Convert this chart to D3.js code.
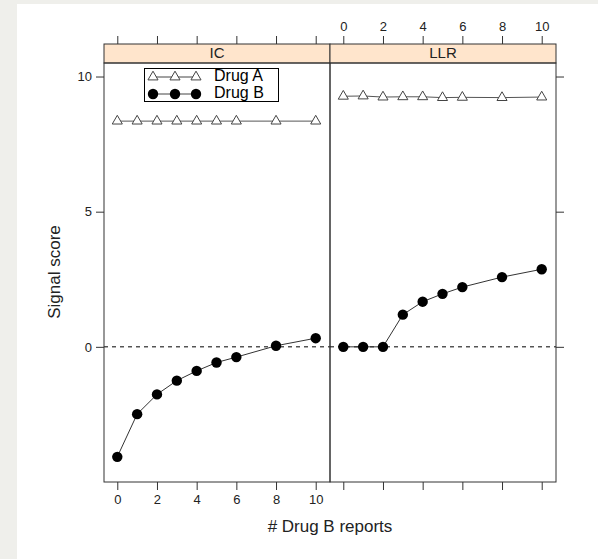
<!DOCTYPE html>
<html>
<head>
<meta charset="utf-8">
<script src="https://cdn.jsdelivr.net/npm/d3@7"></script>
<style>
  body { margin: 0; background: #efefeb; }
  svg { display: block; font-family: "Liberation Sans", Arial, sans-serif; }
</style>
</head>
<body>
<div id="chart"></div>
<script>
// data
var reports = [0, 1, 2, 3, 4, 5, 6, 8, 10];
var panels = ["IC", "LLR"];
var icDrugA = [8.35, 8.35, 8.35, 8.35, 8.35, 8.35, 8.35, 8.35, 8.35];
var icDrugB = [-4.07, -2.49, -1.76, -1.25, -0.89, -0.58, -0.38, 0.04, 0.32];
var llrDrugA = [9.27, 9.28, 9.24, 9.25, 9.25, 9.22, 9.23, 9.22, 9.24];
var llrDrugB = [0, 0, 0, 1.19, 1.67, 1.96, 2.21, 2.58, 2.87];
var xTicks = [0, 2, 4, 6, 8, 10];
var yTicks = [0, 5, 10];
var seriesNames = ["Drug A", "Drug B"];

var W = 598, H = 559;
var panelW = 226, plotLeft = 104, plotTop = 63, plotBottom = 482, stripH = 19;

var svg = d3.select("#chart").append("svg")
    .attr("width", W).attr("height", H);

svg.append("rect").attr("width", W).attr("height", H).attr("fill", "#efefeb");
svg.append("rect").attr("x", 17).attr("y", 4).attr("width", W - 17).attr("height", H - 4).attr("fill", "#fff");

var yScale = d3.scaleLinear().domain([-5.0, 10.5]).range([plotBottom, plotTop]);

var data = {
  IC: [icDrugA, icDrugB],
  LLR: [llrDrugA, llrDrugB]
};

var tri = d3.symbol().type(d3.symbolTriangle).size(44);

function styleTicks(a) {
  a.select(".domain").remove();
  a.selectAll("line").attr("stroke", "#333");
  a.selectAll("text").style("font-size", "13px").attr("fill", "#222")
    .style("font-family", "'Liberation Sans', Arial, sans-serif");
}

panels.forEach(function(p, i) {
  var x0 = plotLeft + i * panelW;
  var xScale = d3.scaleLinear().domain([-0.67, 10.72]).range([x0, x0 + panelW]);
  var g = svg.append("g");

  // strip
  g.append("rect")
    .attr("x", x0).attr("y", plotTop - stripH)
    .attr("width", panelW).attr("height", stripH)
    .attr("fill", "#ffe5cc").attr("stroke", "#333");
  g.append("text")
    .attr("x", x0 + panelW / 2).attr("y", plotTop - stripH / 2 + 1)
    .attr("text-anchor", "middle").attr("dominant-baseline", "middle")
    .style("font-size", "15px").attr("fill", "#222")
    .text(p);

  // reference line
  g.append("line")
    .attr("x1", x0).attr("x2", x0 + panelW)
    .attr("y1", yScale(0)).attr("y2", yScale(0))
    .attr("stroke", "#000").attr("stroke-dasharray", "4,4");

  var line = d3.line()
    .x(function(d, k) { return xScale(reports[k]); })
    .y(function(d) { return yScale(d); });

  var sA = data[p][0], sB = data[p][1];

  g.append("path").attr("d", line(sA)).attr("fill", "none").attr("stroke", "#555");
  g.append("path").attr("d", line(sB)).attr("fill", "none").attr("stroke", "#333");

  g.selectAll("path.tri").data(sA).enter().append("path")
    .attr("class", "tri")
    .attr("d", tri)
    .attr("transform", function(d, k) { return "translate(" + xScale(reports[k]) + "," + yScale(d) + ")"; })
    .attr("fill", "#fff").attr("stroke", "#444");

  g.selectAll("circle").data(sB).enter().append("circle")
    .attr("cx", function(d, k) { return xScale(reports[k]); })
    .attr("cy", function(d) { return yScale(d); })
    .attr("r", 5.2).attr("fill", "#000");

  // panel border
  g.append("rect")
    .attr("x", x0).attr("y", plotTop)
    .attr("width", panelW).attr("height", plotBottom - plotTop)
    .attr("fill", "none").attr("stroke", "#333");

  // x axes, labels alternate bottom / top
  var bAx = d3.axisBottom(xScale).tickValues(xTicks).tickSize(8).tickPadding(5);
  var tAx = d3.axisTop(xScale).tickValues(xTicks).tickSize(8).tickPadding(5);
  if (i === 1) bAx.tickFormat("");
  if (i === 0) tAx.tickFormat("");
  styleTicks(g.append("g").attr("transform", "translate(0," + plotBottom + ")").call(bAx));
  styleTicks(g.append("g").attr("transform", "translate(0," + (plotTop - stripH) + ")").call(tAx));

  // y axis
  if (i === 0) {
    styleTicks(g.append("g").attr("transform", "translate(" + x0 + ",0)")
      .call(d3.axisLeft(yScale).tickValues(yTicks).tickSize(8).tickPadding(4)));
  } else {
    styleTicks(g.append("g").attr("transform", "translate(" + (x0 + panelW) + ",0)")
      .call(d3.axisRight(yScale).tickValues(yTicks).tickSize(8).tickFormat("")));
  }
});

// legend
var lg = svg.append("g");
lg.append("rect").attr("x", 144.5).attr("y", 68.5).attr("width", 134).attr("height", 33)
  .attr("fill", "#fff").attr("stroke", "#000");
var symX = [153, 175, 196];
seriesNames.forEach(function(name, r) {
  var yy = 77 + r * 17;
  lg.append("line").attr("x1", symX[0]).attr("x2", symX[2]).attr("y1", yy).attr("y2", yy)
    .attr("stroke", "#444");
  symX.forEach(function(sx) {
    if (r === 0) {
      lg.append("path").attr("d", tri).attr("transform", "translate(" + sx + "," + yy + ")")
        .attr("fill", "#fff").attr("stroke", "#444");
    } else {
      lg.append("circle").attr("cx", sx).attr("cy", yy).attr("r", 5.2).attr("fill", "#000");
    }
  });
  lg.append("text").attr("x", 214).attr("y", yy).attr("dominant-baseline", "middle")
    .style("font-size", "16px").attr("fill", "#000").text(name);
});

// axis titles
svg.append("text")
  .attr("x", 330).attr("y", 528)
  .attr("text-anchor", "middle").attr("dominant-baseline", "middle")
  .style("font-size", "17px").attr("fill", "#222")
  .text("# Drug B reports");

svg.append("text")
  .attr("transform", "translate(56,272) rotate(-90)")
  .attr("text-anchor", "middle").attr("dominant-baseline", "middle")
  .style("font-size", "17px").attr("fill", "#222")
  .text("Signal score");
</script>
</body>
</html>
